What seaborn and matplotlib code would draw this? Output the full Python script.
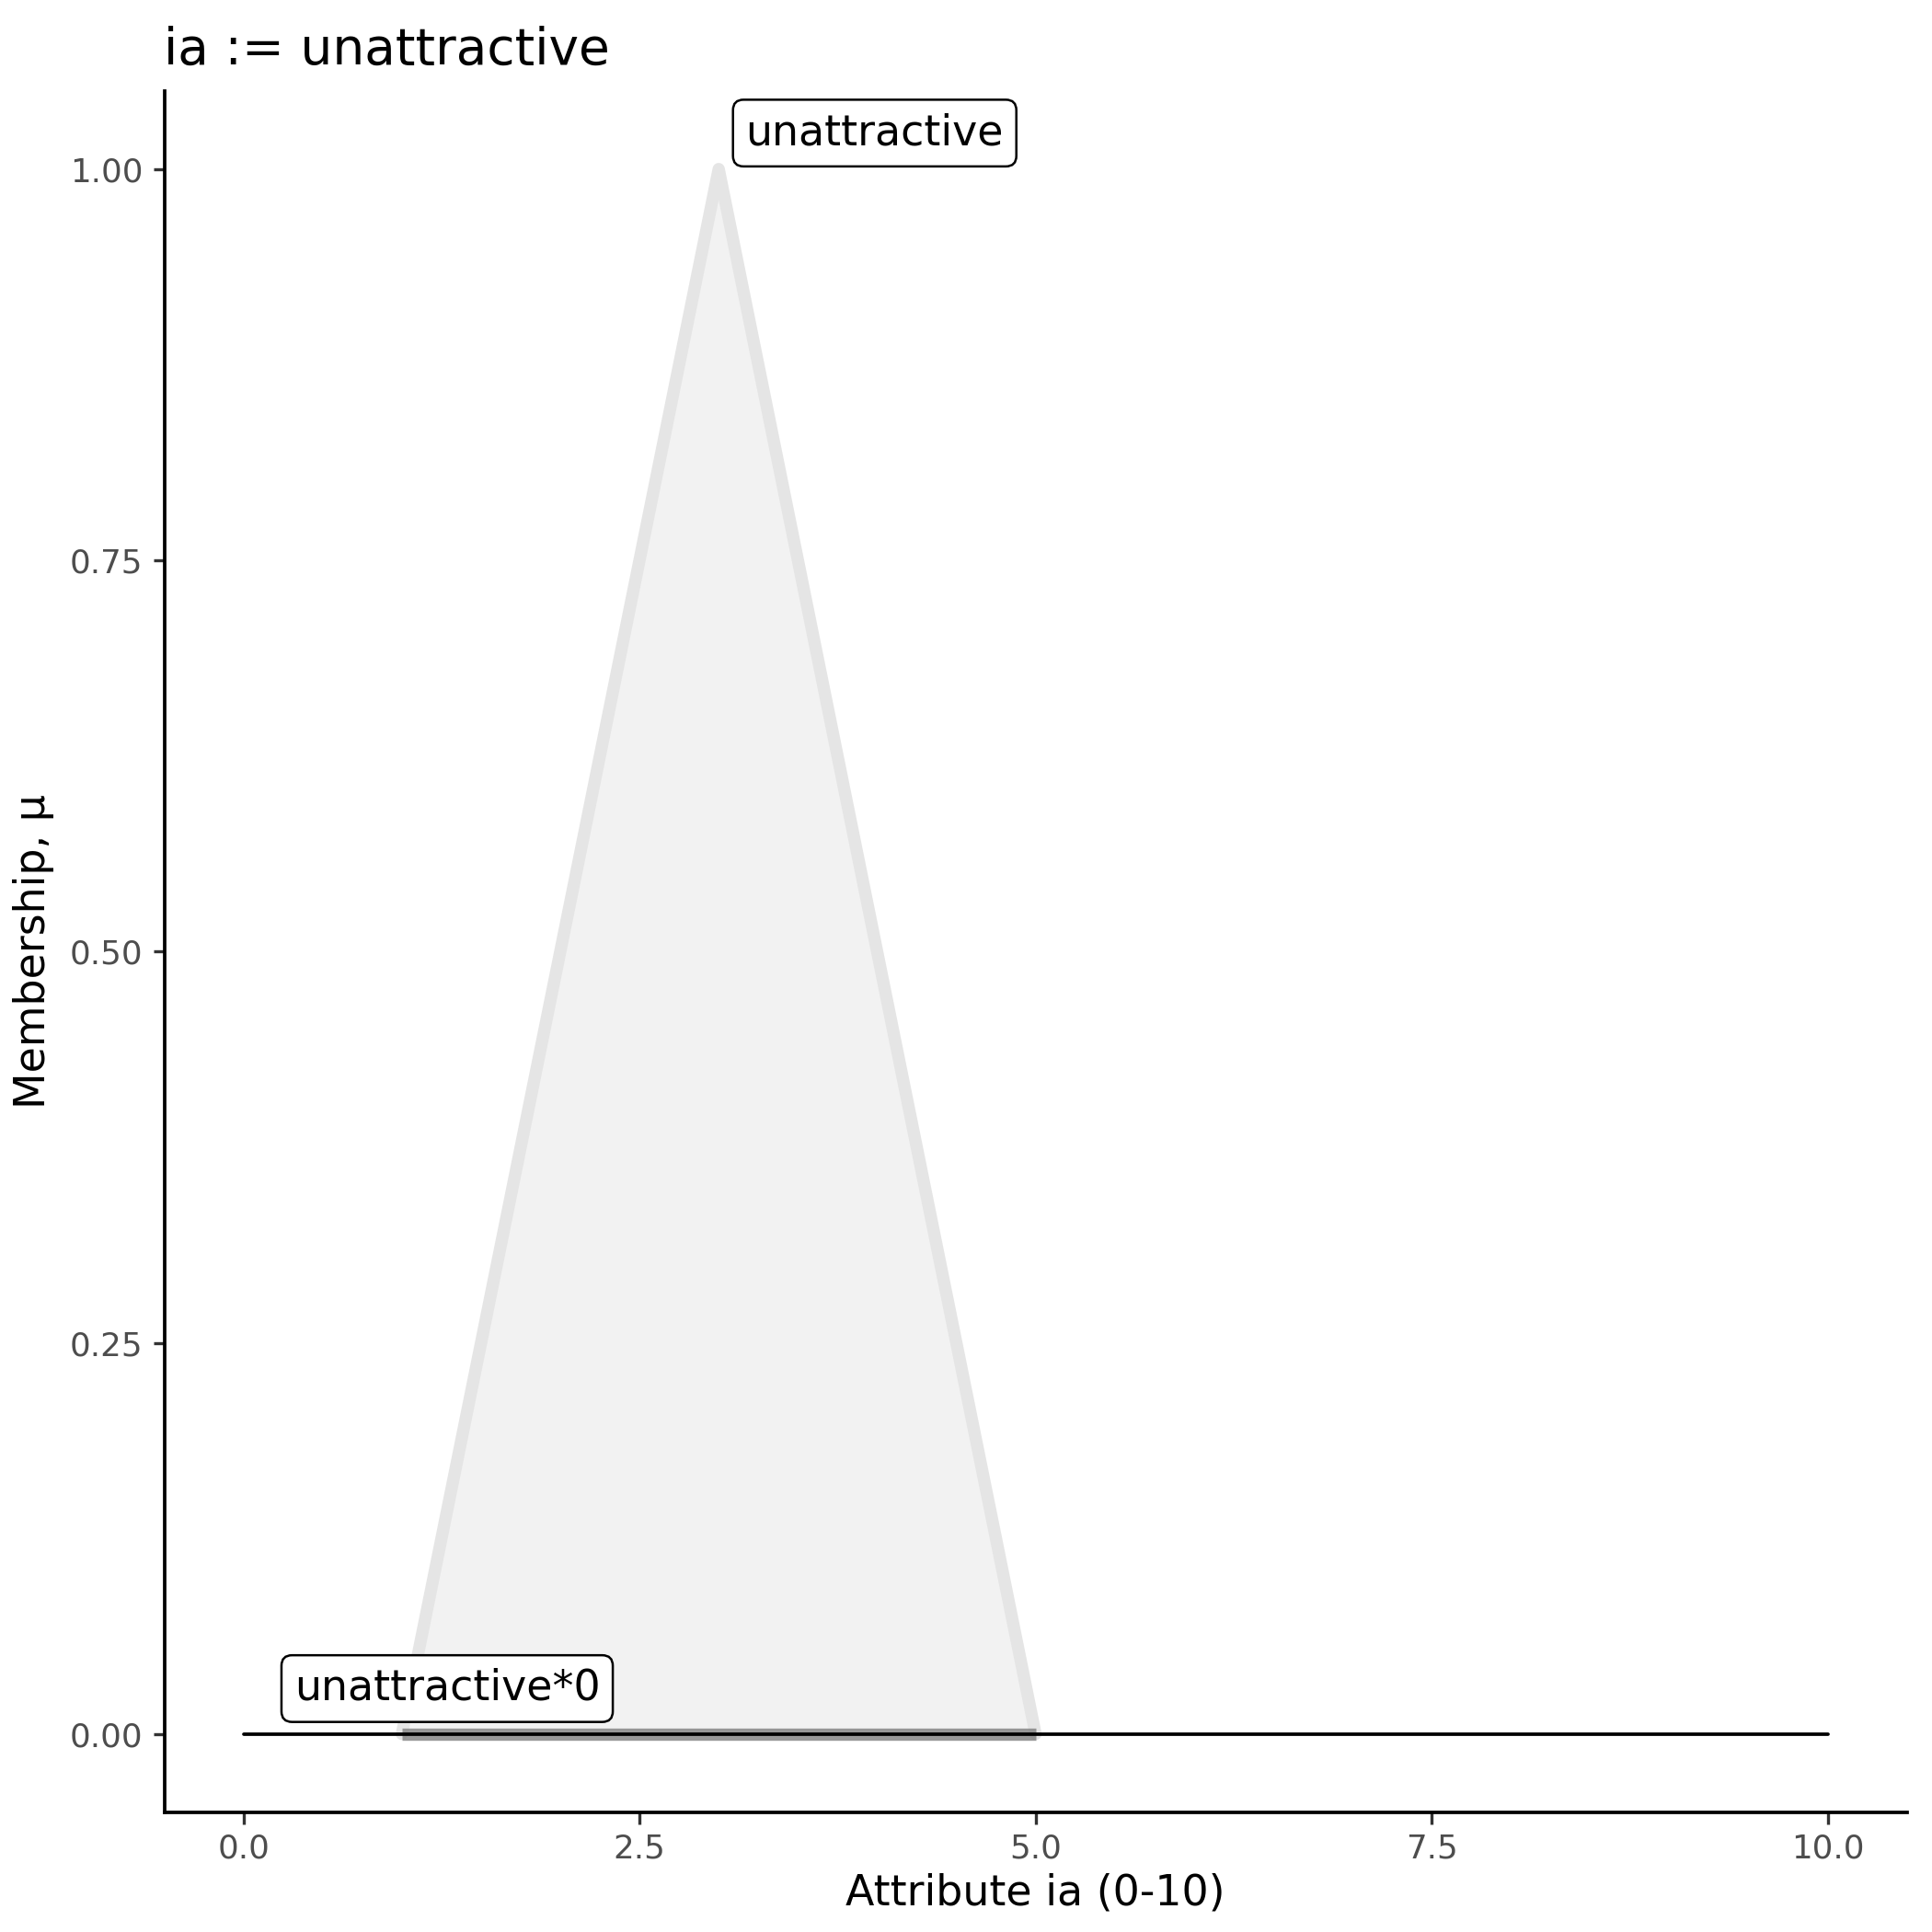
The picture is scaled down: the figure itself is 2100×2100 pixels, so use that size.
import matplotlib
matplotlib.use("Agg")
import pandas as pd
import matplotlib.pyplot as plt
import seaborn as sns

# -------------------------------
# data
# -------------------------------
set_x = [1, 3, 5]            # triangular membership function "unattractive"
set_mu = [0, 1, 0]
result_x = [0, 10]           # "unattractive*0" -> flat zero line
result_mu = [0, 0]
x_ticks = [0.0, 2.5, 5.0, 7.5, 10.0]
y_ticks = [0.00, 0.25, 0.50, 0.75, 1.00]

sns.set_theme(style="ticks")
plt.rcParams['font.family'] = ['DejaVu Sans']
plt.rcParams['text.color'] = 'black'
plt.rcParams['axes.labelcolor'] = 'black'

fig, ax = plt.subplots(figsize=(7, 7), dpi=300)

tri = pd.DataFrame({"x": set_x, "mu": set_mu})
res = pd.DataFrame({"x": result_x, "mu": result_mu})

# filled triangle with light outline
ax.fill(tri["x"], tri["mu"], color="#f2f2f2", zorder=1)
sns.lineplot(data=tri, x="x", y="mu", ax=ax, color="#e5e5e5", lw=3.2,
             sort=False, estimator=None, zorder=2)
# darker base of the triangle
ax.plot([set_x[0], set_x[-1]], [0, 0], color="#7f7f7f", lw=3.2, alpha=0.8,
        solid_capstyle="butt", zorder=2)
sns.lineplot(data=res, x="x", y="mu", ax=ax, color="black", lw=0.9,
             estimator=None, zorder=3)

box = dict(boxstyle="round,pad=0.3,rounding_size=0.25", fc="white", ec="black", lw=0.6)
ax.text(3.17, 1.023, "unattractive", fontsize=11, ha="left", va="center",
        color="black", bbox=box, zorder=4)
ax.text(0.32, 0.029, "unattractive*0", fontsize=11, ha="left", va="center",
        color="black", bbox=box, zorder=4)

ax.set_xlim(-0.5, 10.5)
ax.set_ylim(-0.05, 1.05)
ax.set_xticks(x_ticks)
ax.set_yticks(y_ticks)
ax.set_xticklabels([f"{v:.1f}" for v in x_ticks])
ax.set_yticklabels([f"{v:.2f}" for v in y_ticks])
ax.tick_params(colors="#333333", labelcolor="#4d4d4d", labelsize=8.6,
               length=3, width=0.8, pad=2.5)
for s in ["left", "bottom"]:
    ax.spines[s].set_color("black")
    ax.spines[s].set_linewidth(0.9)
sns.despine(ax=ax)

ax.set_xlabel("Attribute ia (0-10)", fontsize=11, labelpad=2)
ax.set_ylabel("Membership, μ", fontsize=11, labelpad=4)
ax.set_title("ia := unattractive", fontsize=13.2, loc="left", pad=7)

fig.subplots_adjust(left=0.085, right=0.987, top=0.953, bottom=0.062)
fig.savefig("out.png", dpi=300, facecolor="white")
